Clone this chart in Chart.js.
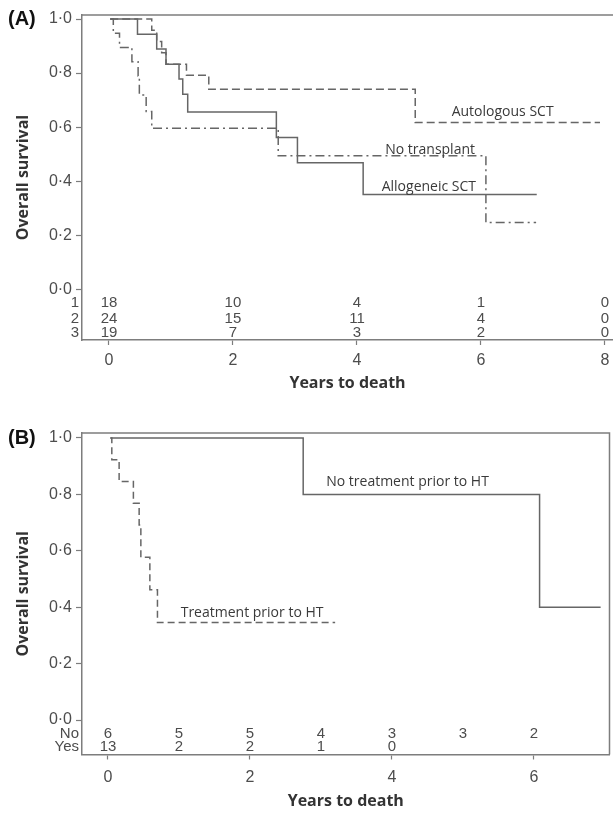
<!DOCTYPE html>
<html>
<head>
<meta charset="utf-8">
<script src="https://cdn.jsdelivr.net/npm/chart.js@4.4.1/dist/chart.umd.min.js"></script>
<style>
html,body{margin:0;padding:0;background:#fff;}
#wrap{position:relative;width:613px;height:813px;overflow:hidden;background:#fff;}
#cA{position:absolute;left:0;top:0;}
#cB{position:absolute;left:0;top:400px;}
</style>
</head>
<body>
<div id="wrap">
<canvas id="cA" width="613" height="400"></canvas>
<canvas id="cB" width="613" height="413"></canvas>
</div>
<script>
// ---------- DATA ----------
const yTickValues = [0, 0.2, 0.4, 0.6, 0.8, 1.0];
const xTicksA = [0, 2, 4, 6, 8];
const xTicksB = [0, 2, 4, 6];

// Panel A : Kaplan-Meier curves (time in years, survival)
const alloTimes = [0.02, 0.46, 0.77, 0.92, 1.13, 1.19, 1.27, 2.70, 3.04, 4.10, 6.90];
const alloSurv  = [1.00, 0.944, 0.889, 0.833, 0.778, 0.722, 0.656, 0.562, 0.468, 0.351, 0.351];

const autoTimes = [0.02, 0.69, 0.77, 0.85, 0.92, 1.25, 1.61, 4.94, 7.92];
const autoSurv  = [1.00, 0.958, 0.917, 0.875, 0.833, 0.792, 0.740, 0.617, 0.617];

const noTrTimes = [0.02, 0.07, 0.17, 0.37, 0.47, 0.49, 0.60, 0.69, 2.73, 6.08, 6.89];
const noTrSurv  = [1.00, 0.947, 0.895, 0.842, 0.789, 0.719, 0.658, 0.596, 0.494, 0.247, 0.247];

// Panel A : numbers at risk
const riskTimesA = [0, 2, 4, 6, 8];
const riskRowLabelsA = ['1', '2', '3'];
const riskRow1A = [18, 10, 4, 1, 0];
const riskRow2A = [24, 15, 11, 4, 0];
const riskRow3A = [19, 7, 3, 2, 0];

// Panel B : Kaplan-Meier curves
const noPriorTimes = [0.04, 2.75, 6.08, 6.94];
const noPriorSurv  = [1.00, 0.80, 0.40, 0.40];

const priorTimes = [0.03, 0.054, 0.157, 0.358, 0.439, 0.463, 0.59, 0.697, 3.20];
const priorSurv  = [1.00, 0.923, 0.846, 0.769, 0.692, 0.577, 0.462, 0.346, 0.346];

// Panel B : numbers at risk
const riskTimesB = [0, 1, 2, 3, 4, 5, 6];
const riskRowLabelsB = ['No', 'Yes'];
const riskNoB  = [6, 5, 5, 4, 3, 3, 2];
const riskYesB = [13, 2, 2, 1, 0];

// ---------- STYLE ----------
const AXIS_COLOR = '#7d7d7d';
const LINE_COLOR = '#666666';
const TICK_TEXT = '#4d4d4d';
const TITLE_TEXT = '#333333';

function pts(t, s) { return t.map((v, i) => ({x: v, y: s[i]})); }

function curve(label, t, s, dash) {
  return {
    label, data: pts(t, s), stepped: 'before',
    borderColor: LINE_COLOR, borderWidth: 1.5, borderDash: dash,
    pointRadius: 0, fill: false, tension: 0
  };
}

const panelPlugin = {
  id: 'panel',
  afterDraw(chart, args, o) {
    const {ctx, chartArea: ca, scales: {x, y}} = chart;
    ctx.save();
    ctx.strokeStyle = AXIS_COLOR; ctx.lineWidth = 1.5;
    ctx.beginPath();
    ctx.moveTo(ca.left, ca.top); ctx.lineTo(ca.right, ca.top);
    if (o.rightBorder) { ctx.lineTo(ca.right, ca.bottom); }
    ctx.stroke();
    ctx.fillStyle = '#111';
    ctx.font = 'bold 20px "Liberation Sans", Arial, sans-serif';
    ctx.textAlign = 'left'; ctx.textBaseline = 'middle';
    ctx.fillText(o.letter, 8, y.getPixelForValue(1.0));
    ctx.fillStyle = '#3a3a3a';
    ctx.font = '14px "Open Sans", sans-serif';
    ctx.textAlign = 'center'; ctx.textBaseline = 'middle';
    o.labels.forEach(l => ctx.fillText(l.text, x.getPixelForValue(l.x), y.getPixelForValue(l.y)));
    ctx.fillStyle = TICK_TEXT;
    ctx.font = '15px "Liberation Sans", Arial, sans-serif';
    o.risk.rows.forEach((row, r) => {
      const py = y.getPixelForValue(o.risk.levels[r]);
      ctx.textAlign = 'right';
      ctx.fillText(o.risk.names[r], ca.left - 3, py);
      ctx.textAlign = 'center';
      row.forEach((n, i) => ctx.fillText(String(n), x.getPixelForValue(o.risk.times[i]), py));
    });
    ctx.restore();
  }
};

function makeChart(id, cfg) {
  return new Chart(document.getElementById(id), {
    type: 'line',
    data: {datasets: cfg.datasets},
    options: {
      responsive: false, animation: false, devicePixelRatio: 1,
      layout: {padding: {top: cfg.padTop, right: cfg.padRight, left: 0, bottom: 0}},
      plugins: {legend: {display: false}, tooltip: {enabled: false}, panel: cfg.panel},
      scales: {
        x: {
          type: 'linear', min: cfg.xMin, max: cfg.xMax,
          afterBuildTicks: s => { s.ticks = cfg.xTicks.map(v => ({value: v})); },
          afterFit: s => { s.height = cfg.xHeight; s.paddingLeft = 0; s.paddingRight = 0; },
          ticks: {
            callback: v => String(v), color: TICK_TEXT, padding: cfg.xTickPad, maxRotation: 0,
            font: {family: '"Liberation Sans", Arial, sans-serif', size: 16}
          },
          grid: {display: true, drawOnChartArea: false, drawTicks: true, tickLength: 5,
                 tickColor: AXIS_COLOR, tickWidth: 1.2},
          border: {display: true, color: AXIS_COLOR, width: 1.5},
          title: {display: true, text: 'Years to death', color: TITLE_TEXT,
                  font: {family: '"Open Sans", sans-serif', size: 16, weight: 'bold'},
                  padding: {top: 0, bottom: cfg.xTitlePad}}
        },
        y: {
          type: 'linear', min: cfg.yMin, max: cfg.yMax,
          afterBuildTicks: s => { s.ticks = yTickValues.map(v => ({value: v})); },
          afterFit: s => { s.width = 82; s.paddingTop = 0; s.paddingBottom = 0; },
          ticks: {
            callback: v => v.toFixed(1).replace('.', '·'), color: TICK_TEXT, padding: 4,
            font: {family: '"Liberation Sans", Arial, sans-serif', size: 16}
          },
          grid: {display: true, drawOnChartArea: false, drawTicks: true, tickLength: 6,
                 tickColor: AXIS_COLOR, tickWidth: 1.2},
          border: {display: true, color: AXIS_COLOR, width: 1.5},
          title: {display: true, text: 'Overall survival', color: TITLE_TEXT,
                  font: {family: '"Open Sans", sans-serif', size: 16, weight: 'bold'},
                  padding: {top: 14, bottom: 0}}
        }
      }
    },
    plugins: [panelPlugin]
  });
}

makeChart('cA', {
  datasets: [
    curve('Allogeneic SCT', alloTimes, alloSurv, []),
    curve('Autologous SCT', autoTimes, autoSurv, [8, 4]),
    curve('No transplant', noTrTimes, noTrSurv, [9, 4, 2, 4])
  ],
  padTop: 15, padRight: 0,
  xMin: -0.435, xMax: 8.13, yMin: -0.1876, yMax: 1.0148,
  xTicks: xTicksA, xHeight: 60, xTickPad: 6, xTitlePad: 7,
  panel: {
    letter: '(A)', rightBorder: false,
    labels: [
      {text: 'Autologous SCT', x: 6.35, y: 0.657},
      {text: 'No transplant', x: 5.18, y: 0.515},
      {text: 'Allogeneic SCT', x: 5.16, y: 0.377}
    ],
    risk: {
      times: riskTimesA, names: riskRowLabelsA,
      rows: [riskRow1A, riskRow2A, riskRow3A],
      levels: [-0.052, -0.110, -0.163]
    }
  }
});

makeChart('cB', {
  datasets: [
    curve('No treatment prior to HT', noPriorTimes, noPriorSurv, []),
    curve('Treatment prior to HT', priorTimes, priorSurv, [7, 4])
  ],
  padTop: 33, padRight: 3.5,
  xMin: -0.366, xMax: 7.065, yMin: -0.122, yMax: 1.0177,
  xTicks: xTicksB, xHeight: 58.5, xTickPad: 8, xTitlePad: 2,
  panel: {
    letter: '(B)', rightBorder: true,
    labels: [
      {text: 'No treatment prior to HT', x: 4.22, y: 0.844},
      {text: 'Treatment prior to HT', x: 2.03, y: 0.378}
    ],
    risk: {
      times: riskTimesB, names: riskRowLabelsB,
      rows: [riskNoB, riskYesB],
      levels: [-0.0496, -0.0946]
    }
  }
});
</script>
</body>
</html>
